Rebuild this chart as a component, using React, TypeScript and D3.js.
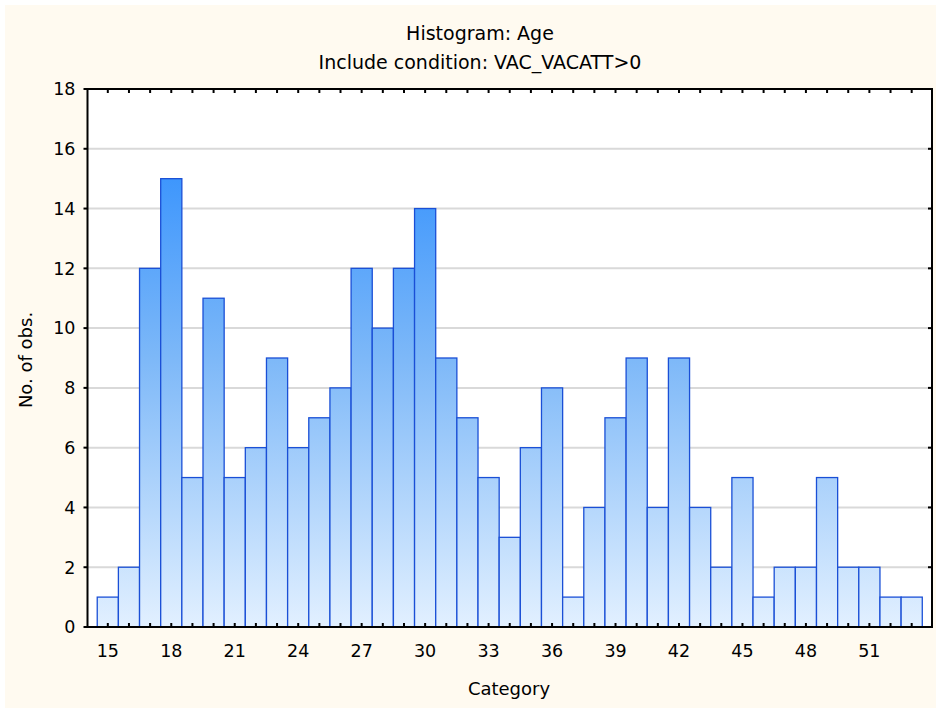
import * as d3 from 'd3';
import React from 'react';

// histogram of Age, one bar per year
const categories = [15, 16, 17, 18, 19, 20, 21, 22, 23, 24, 25, 26, 27, 28, 29, 30, 31, 32, 33, 34,
  35, 36, 37, 38, 39, 40, 41, 42, 43, 44, 45, 46, 47, 48, 49, 50, 51, 52, 53];
const counts = [1, 2, 12, 15, 5, 11, 5, 6, 9, 6, 7, 8, 12, 10, 12, 14, 9, 7, 5, 3,
  6, 8, 1, 4, 7, 9, 4, 9, 4, 2, 5, 1, 2, 2, 5, 2, 2, 1, 1];
const xTickLabels = [15, 18, 21, 24, 27, 30, 33, 36, 39, 42, 45, 48, 51];
const yTicks = [0, 2, 4, 6, 8, 10, 12, 14, 16, 18];

const W = 936;
const H = 708;
const left = 87.5, right = 932, top = 89, bottom = 627;

const font = '"DejaVu Sans", sans-serif';

function App() {
  const x = d3.scaleLinear().domain([14.04, 53.96]).range([left, right]);
  const y = d3.scaleLinear().domain([0, 18]).range([bottom, top]);
  const bw = x(1) - x(0);

  return (
    <svg width={W} height={H} style={{ position: 'absolute', left: 0, top: 0 }}>
      <defs>
        <linearGradient id="barGrad" gradientUnits="userSpaceOnUse" x1="0" y1={top} x2="0" y2={bottom}>
          <stop offset="0" stopColor="#1f86ff" />
          <stop offset="0.5" stopColor="#7db8f8" />
          <stop offset="1" stopColor="#e2f0ff" />
        </linearGradient>
      </defs>
      <rect x={0} y={0} width={W} height={H} fill="#ffffff" />
      <rect x={5} y={5} width={W - 5} height={H - 5} fill="#fffaf0" />
      <rect x={left} y={top} width={right - left} height={bottom - top} fill="#ffffff" />

      {/* gridlines */}
      {yTicks.filter(t => t > 0 && t < 18).map(t => (
        <line key={'g' + t} x1={left} x2={right} y1={y(t)} y2={y(t)} stroke="#d9d9d9" strokeWidth={2} />
      ))}

      {/* bars */}
      {categories.map((c, i) => (
        <rect key={c}
          x={x(c) - bw / 2} y={y(counts[i])}
          width={bw} height={bottom - y(counts[i])}
          fill="url(#barGrad)" stroke="#1a4fd6" strokeWidth={1.3} />
      ))}

      {/* frame */}
      <rect x={left} y={top} width={right - left} height={bottom - top} fill="none" stroke="#000" strokeWidth={2} />

      {/* ticks on the top and bottom edges, one per category */}
      {categories.map(c => (
        <g key={'t' + c}>
          <line x1={x(c)} x2={x(c)} y1={bottom} y2={bottom - 4} stroke="#000" strokeWidth={2} />
          <line x1={x(c)} x2={x(c)} y1={top} y2={top + 4} stroke="#000" strokeWidth={2} />
        </g>
      ))}
      {yTicks.map(t => (
        <g key={'y' + t}>
          <line x1={left - 4} x2={left} y1={y(t)} y2={y(t)} stroke="#000" strokeWidth={2} />
          <line x1={right - 4} x2={right} y1={y(t)} y2={y(t)} stroke="#000" strokeWidth={2} />
          <text x={left - 12} y={y(t)} dy="0.36em" textAnchor="end" fontFamily={font} fontSize={17.5} fill="#000">{t}</text>
        </g>
      ))}
      {xTickLabels.map(t => (
        <text key={'x' + t} x={x(t)} y={657} textAnchor="middle" fontFamily={font} fontSize={17.5} fill="#000">{t}</text>
      ))}

      {/* titles */}
      <text x={480} y={40} textAnchor="middle" fontFamily={font} fontSize={19} fill="#000">Histogram: Age</text>
      <text x={480} y={69} textAnchor="middle" fontFamily={font} fontSize={19} fill="#000">Include condition: VAC_VACATT&gt;0</text>
      <text x={509} y={695} textAnchor="middle" fontFamily={font} fontSize={18} fill="#000">Category</text>
      <text transform={`translate(32,360) rotate(-90)`} textAnchor="middle" fontFamily={font} fontSize={18} fill="#000">No. of obs.</text>
    </svg>
  );
}

export default App;
